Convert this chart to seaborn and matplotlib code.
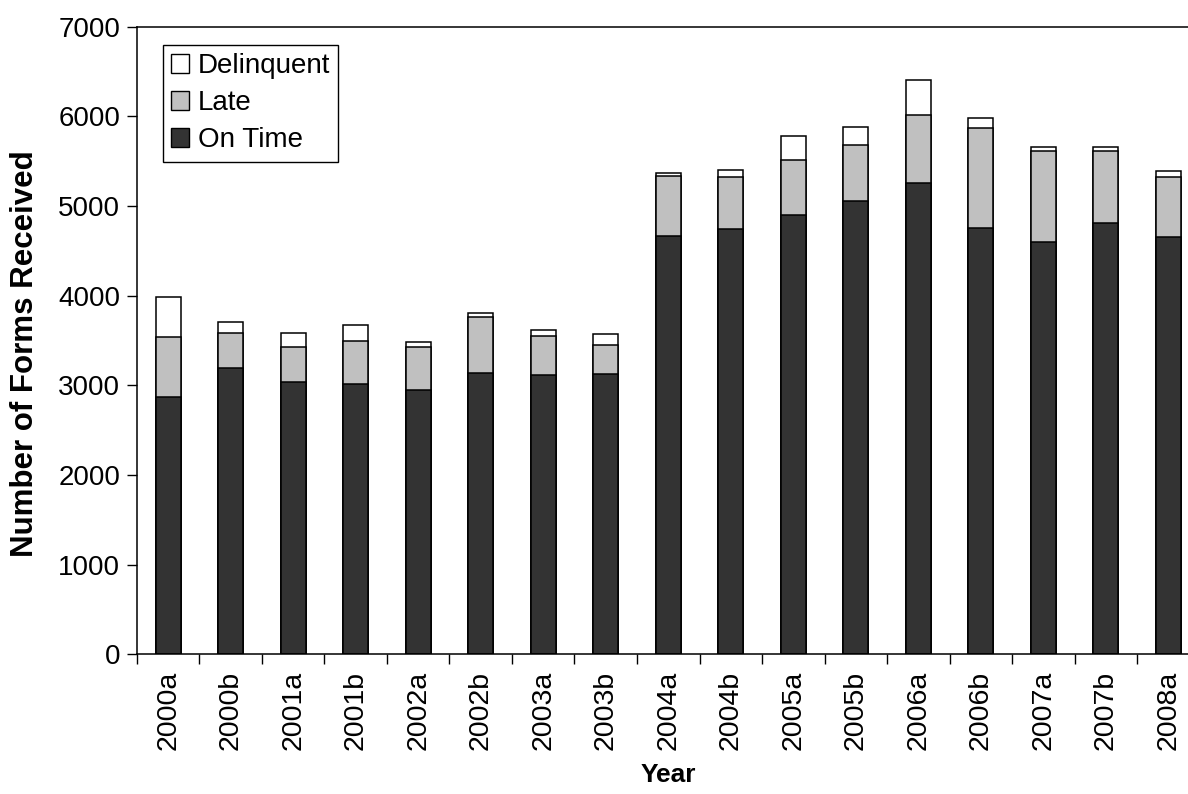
import numpy as np
import pandas as pd
import matplotlib
matplotlib.use("Agg")
import matplotlib.pyplot as plt
import seaborn as sns
from matplotlib.patches import Patch
from matplotlib.ticker import FixedLocator

# ==============================
# Data
# ==============================
periods = ["2000a", "2000b", "2001a", "2001b", "2002a", "2002b", "2003a", "2003b",
           "2004a", "2004b", "2005a", "2005b", "2006a", "2006b", "2007a", "2007b", "2008a"]
on_time = [2870, 3190, 3040, 3015, 2950, 3140, 3115, 3125,
           4670, 4740, 4905, 5060, 5255, 4760, 4600, 4810, 4660]
late = [665, 397, 387, 482, 482, 621, 438, 326,
        665, 587, 614, 617, 759, 1115, 1012, 802, 669]
delinquent = [450, 122, 153, 179, 53, 52, 67, 123,
              30, 71, 267, 201, 393, 108, 49, 49, 66]

colors = {"On Time": "#333333", "Late": "#c0c0c0", "Delinquent": "#ffffff"}

# ==============================
# Settings
# ==============================
sns.set_style("ticks")
plt.rcParams["font.family"] = ["Liberation Sans", "DejaVu Sans"]
plt.rcParams["text.color"] = "black"
plt.rcParams["axes.labelcolor"] = "black"
plt.rcParams["xtick.color"] = "black"
plt.rcParams["ytick.color"] = "black"

df = pd.DataFrame({"period": periods, "On Time": on_time,
                   "Late": late, "Delinquent": delinquent})
# cumulative tops so the stacks can be drawn back-to-front
df["top_on"] = df["On Time"]
df["top_late"] = df["top_on"] + df["Late"]
df["top_del"] = df["top_late"] + df["Delinquent"]

fig = plt.figure(figsize=(11.88, 7.94), dpi=100)
ax = fig.add_axes([0.1153, 0.1757, 0.8944, 0.7907])

for col, name in [("top_del", "Delinquent"), ("top_late", "Late"), ("top_on", "On Time")]:
    sns.barplot(data=df, x="period", y=col, color=colors[name], saturation=1,
                width=0.4, edgecolor="black", linewidth=1.1, ax=ax)

ax.set_ylim(0, 7000)
ax.set_xlim(-0.5, len(periods) - 0.5)
ax.set_yticks(range(0, 7001, 1000))
ax.tick_params(axis="y", labelsize=20, length=7, width=1, direction="out", pad=5)

# x ticks sit between bars, labels centred under bars
ax.xaxis.set_minor_locator(FixedLocator(np.arange(-0.5, len(periods), 1.0)))
ax.tick_params(axis="x", which="major", length=0, labelsize=20.5, pad=12)
ax.tick_params(axis="x", which="minor", length=7, width=1, direction="out")
plt.setp(ax.get_xticklabels(), rotation=90)

for side in ["left", "bottom", "top", "right"]:
    ax.spines[side].set_visible(True)
    ax.spines[side].set_color("black")
    ax.spines[side].set_linewidth(1.1)

ax.set_xlabel("Year", fontsize=19, fontweight="bold", labelpad=9)
ax.set_ylabel("Number of Forms Received", fontsize=22.5, fontweight="bold")
ax.yaxis.set_label_coords(-0.091, 0.48)

handles = [Patch(facecolor=colors[n], edgecolor="black", linewidth=1, label=n)
           for n in ["Delinquent", "Late", "On Time"]]
leg = ax.legend(handles=handles, loc="upper left", bbox_to_anchor=(0.0245, 0.971),
                borderaxespad=0, fontsize=20, frameon=True, fancybox=False,
                edgecolor="black", framealpha=1, handlelength=0.65, handleheight=0.65,
                handletextpad=0.3, labelspacing=0.4, borderpad=0.3)
leg.get_frame().set_linewidth(1)

fig.savefig("out.png", dpi=100)
